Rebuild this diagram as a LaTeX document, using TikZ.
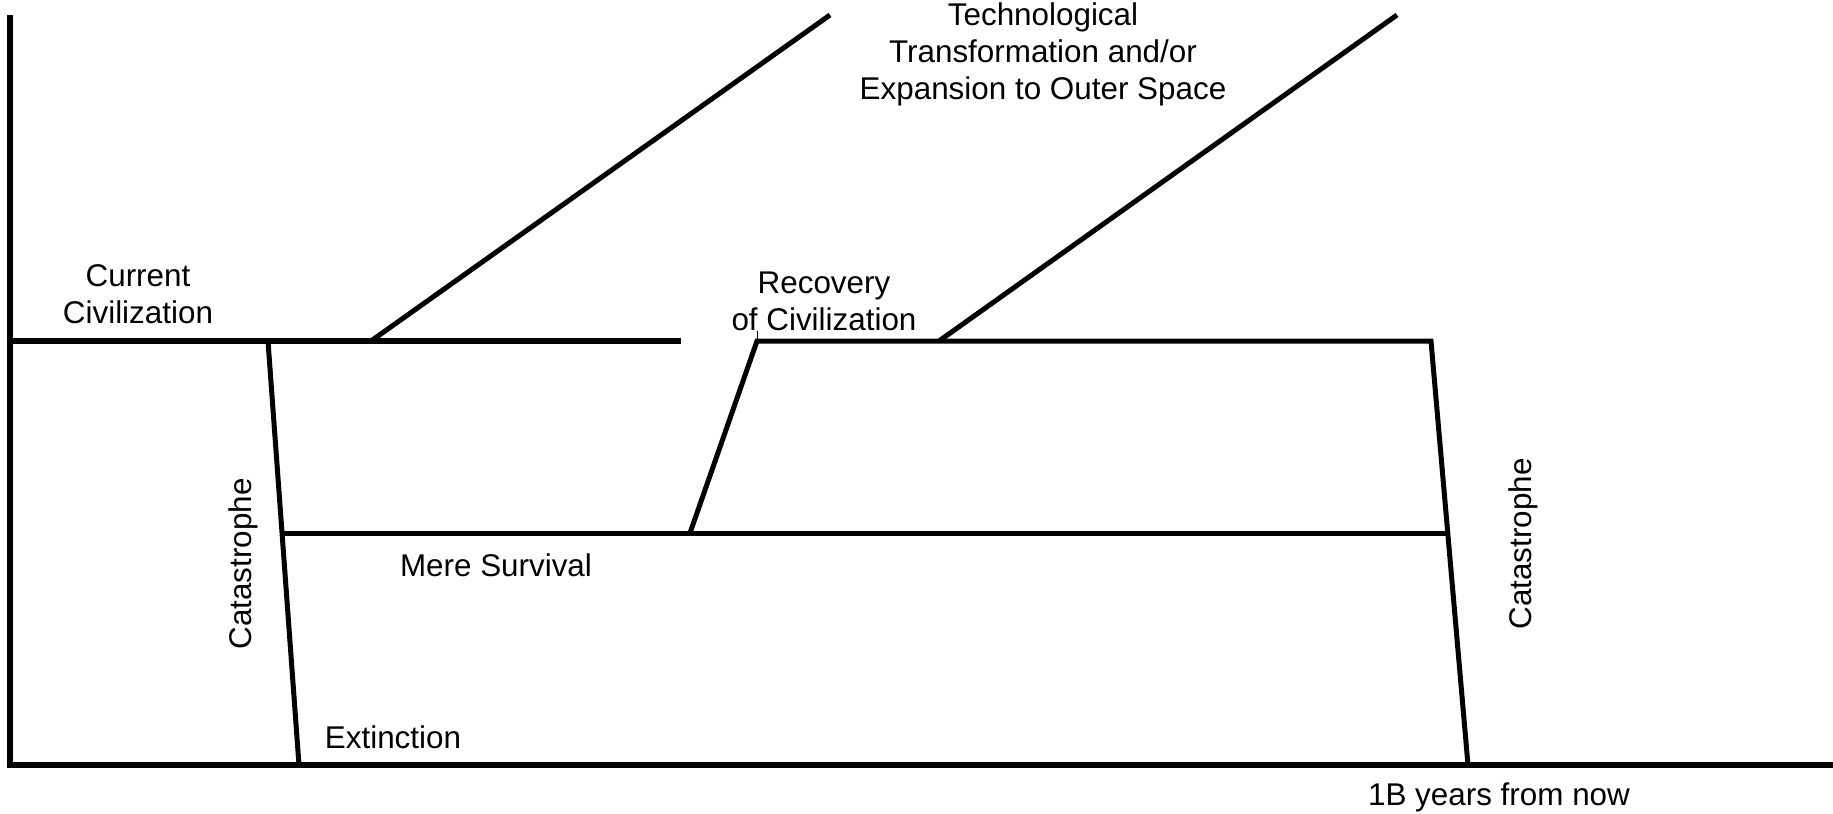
\documentclass[tikz,border=0pt]{standalone}
\usepackage{fontspec}
\setmainfont{Liberation Sans}
\begin{document}
\begin{tikzpicture}[x=0.5pt,y=-0.5pt,line join=miter,
	axis/.style={line width=2.7pt},
	path/.style={line width=2.5pt},
	lbl/.style={inner sep=0pt,align=center,anchor=base},
	font=\fontsize{15.7pt}{18.4pt}\selectfont]
	\useasboundingbox (0,0) rectangle (1833,814);
	% axes
	\coordinate (top) at (10,15);
	\coordinate (O) at (10,765);
	\coordinate (xend) at (1833,765);
	\draw[axis] (top)--(O)--(xend);
	% current civilization and first catastrophe
	\coordinate (cc0) at (10,341);
	\coordinate (cc1) at (681,341);
	\coordinate (catL0) at (268,341);
	\coordinate (catL1) at (299,765);
	\coordinate (techA0) at (371,341);
	\coordinate (techA1) at (830,15);
	\draw[axis] (cc0)--(cc1);
	\draw[path] (catL0)--(catL1);
	\draw[path] (techA0)--(techA1);
	% mere survival, recovery, second catastrophe
	\coordinate (ms0) at (282,533);
	\coordinate (ms1) at (1448,533);
	\coordinate (rc0) at (690,533);
	\coordinate (rc1) at (757,341);
	\coordinate (rc2) at (1431,341);
	\coordinate (catR1) at (1468,765);
	\coordinate (techB0) at (939,341);
	\coordinate (techB1) at (1397,15);
	\draw[path] (ms0)--(ms1);
	\draw[path] (rc0)--(rc1)--(rc2)--(catR1);
	\draw[path] (techB0)--(techB1);
	\draw[line width=0.5pt] (rc1)--++(0,-10);
	% labels
	\node[lbl] (tech) at (1043,99) {Technological\\Transformation and/or\\Expansion to Outer Space};
	\node[lbl] (cur) at (138,323) {Current\\Civilization};
	\node[lbl] (rec) at (824,330) {Recovery\\of Civilization};
	\node[lbl] (mere) at (496,576) {Mere Survival};
	\node[lbl] (ext) at (393,748) {Extinction};
	\node[lbl] (when) at (1499,805) {1B years from now};
	\node[lbl,rotate=90] (catL) at (251,564) {Catastrophe};
	\node[lbl,rotate=90] (catR) at (1531,544) {Catastrophe};
\end{tikzpicture}
\end{document}
